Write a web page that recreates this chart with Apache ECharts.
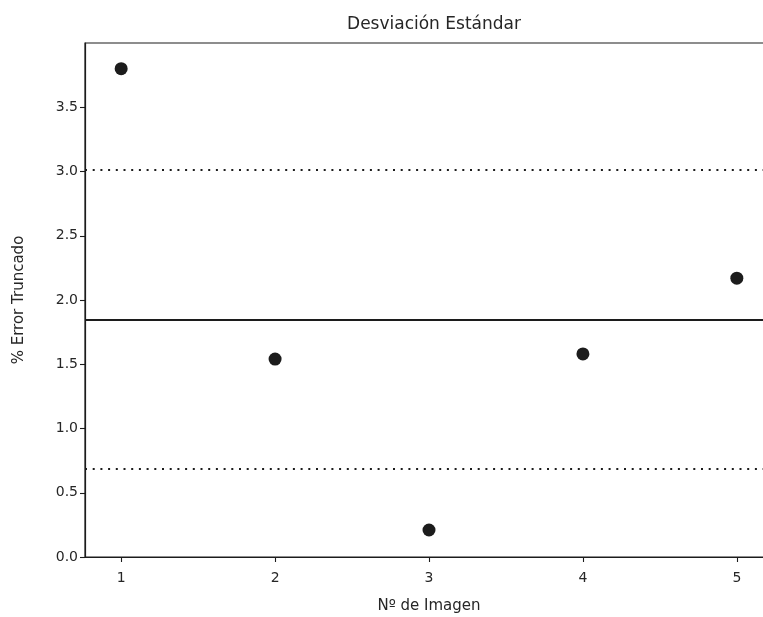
<!DOCTYPE html>
<html>
<head>
<meta charset="utf-8">
<script src="https://cdn.jsdelivr.net/npm/echarts@6/dist/echarts.min.js"></script>
<style>
  html, body { margin: 0; padding: 0; background: #fff; }
  #chart { width: 763px; height: 617px; }
</style>
</head>
<body>
<div id="chart"></div>
<script>
// Image numbers and truncated-error percentages
const imageNumbers = [1, 2, 3, 4, 5];
const errorValues = [3.80, 1.54, 0.21, 1.58, 2.17];

// Reference lines: mean and mean ± one standard deviation
const meanValue = 1.855;
const upperBand = 3.01;
const lowerBand = 0.685;

// Axis ticks
const xTicks = [1, 2, 3, 4, 5];
const yTicks = [0, 0.5, 1.0, 1.5, 2.0, 2.5, 3.0, 3.5];

const ink = '#1c1c1c';
const font = 'DejaVu Sans';

const chart = echarts.init(document.getElementById('chart'), null, { renderer: 'canvas' });

chart.setOption({
  animation: false,
  backgroundColor: '#ffffff',
  title: {
    text: 'Desviación Estándar',
    left: 429,
    top: 11,
    textAlign: 'center',
    textStyle: { fontFamily: font, fontSize: 17, fontWeight: 'normal', color: '#262626' }
  },
  grid: {
    left: 85, top: 43, width: 688, height: 514,
    outerBoundsMode: 'none',
    containLabel: false,
    show: true, borderColor: ink, borderWidth: 1.2, backgroundColor: 'transparent'
  },
  xAxis: {
    type: 'value',
    min: 0.765, max: 5.235,
    name: 'Nº de Imagen',
    nameLocation: 'middle',
    nameGap: 42,
    nameTextStyle: { fontFamily: font, fontSize: 15, color: '#262626' },
    axisLine: { show: true, lineStyle: { color: ink, width: 1.2 } },
    axisTick: { show: true, length: 5, lineStyle: { color: ink, width: 1.1 }, customValues: xTicks },
    axisLabel: {
      fontFamily: font, fontSize: 14, color: '#262626', margin: 14,
      customValues: xTicks,
      formatter: v => String(Math.round(v))
    },
    splitLine: { show: false }
  },
  yAxis: {
    type: 'value',
    min: 0, max: 4.0,
    name: '% Error Truncado',
    nameLocation: 'middle',
    nameGap: 58,
    nameRotate: 90,
    nameTextStyle: { fontFamily: font, fontSize: 15, color: '#262626' },
    axisLine: { show: true, lineStyle: { color: ink, width: 1.2 } },
    axisTick: { show: true, length: 5, lineStyle: { color: ink, width: 1.1 }, customValues: yTicks },
    axisLabel: {
      fontFamily: font, fontSize: 14, color: '#262626', margin: 7,
      customValues: yTicks,
      formatter: v => v.toFixed(1)
    },
    splitLine: { show: false }
  },
  series: [
    {
      type: 'scatter',
      data: imageNumbers.map((n, i) => [n, errorValues[i]]),
      symbol: 'circle',
      symbolSize: 13,
      itemStyle: { color: ink, opacity: 1 },
      z: 5,
      markLine: {
        silent: true,
        symbol: 'none',
        label: { show: false },
        data: [
          { yAxis: meanValue, lineStyle: { color: ink, width: 2, type: 'solid' } },
          { yAxis: upperBand, lineStyle: { color: ink, width: 2.2, type: [2, 5.7] } },
          { yAxis: lowerBand, lineStyle: { color: ink, width: 2.2, type: [2, 5.7] } }
        ]
      }
    }
  ]
});
</script>
</body>
</html>
